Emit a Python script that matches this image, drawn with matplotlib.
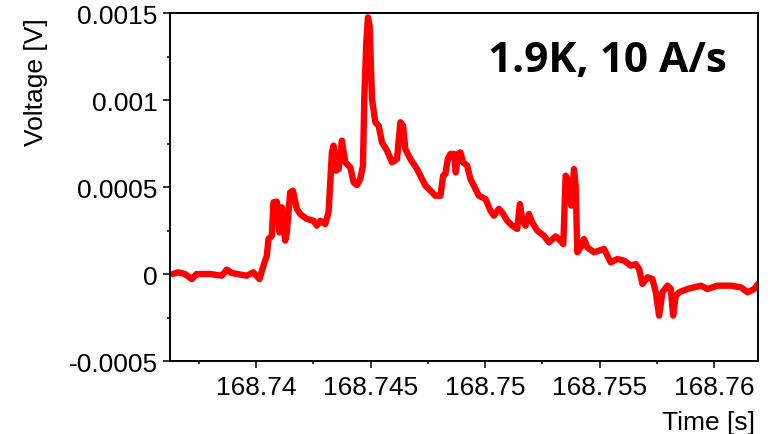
import matplotlib
matplotlib.use("Agg")
import matplotlib.pyplot as plt
from matplotlib.ticker import MultipleLocator

# quench voltage trace, 1.9 K ramp at 10 A/s
time_s = [
    168.736355, 168.736602, 168.736894, 168.737186, 168.737404, 168.737988,
    168.738498, 168.738717, 168.738936, 168.739592, 168.739883, 168.740146,
    168.740321, 168.740467, 168.740540, 168.740685, 168.740758, 168.740904,
    168.741021, 168.741123, 168.741269, 168.741342, 168.741487, 168.741604,
    168.741779, 168.741925, 168.742216, 168.742508, 168.742654, 168.742800,
    168.743018, 168.743164, 168.743310, 168.743383, 168.743485, 168.743602,
    168.743748, 168.743893, 168.744112, 168.744258, 168.744404, 168.744549,
    168.744666, 168.744724, 168.744812, 168.744885, 168.744958, 168.745060,
    168.745206, 168.745351, 168.745497, 168.745716, 168.745935, 168.746154,
    168.746299, 168.746416, 168.746518, 168.746737, 168.746883, 168.747028,
    168.747174, 168.747393, 168.747612, 168.747830, 168.748049, 168.748166,
    168.748268, 168.748370, 168.748487, 168.748632, 168.748720, 168.748822,
    168.748924, 168.749041, 168.749216, 168.749361, 168.749507, 168.749726,
    168.750018, 168.750236, 168.750382, 168.750601, 168.750747, 168.750965,
    168.751184, 168.751403, 168.751520, 168.751622, 168.751767, 168.751913,
    168.752059, 168.752278, 168.752569, 168.752788, 168.753080, 168.753226,
    168.753415, 168.753517, 168.753663, 168.753765, 168.753882, 168.753955,
    168.754028, 168.754173, 168.754319, 168.754465, 168.754757, 168.755194,
    168.755486, 168.755777, 168.756069, 168.756361, 168.756579, 168.756725,
    168.756871, 168.757090, 168.757308, 168.757454, 168.757600, 168.757746,
    168.757965, 168.758110, 168.758212, 168.758329, 168.758475, 168.758840,
    168.759423, 168.759715, 168.760152, 168.760735, 168.761173, 168.761464,
    168.761756, 168.761920,
]
voltage_v = [
    0.0, 9.6e-6, 0.0, -2.9e-5, 0.0, 0.0,
    -9.6e-6, 2.5e-5, 5.7e-6, -9.6e-6, 9.6e-6, -2.9e-5,
    4.8e-5, 1.05e-4, 2.01e-4, 2.20e-4, 4.12e-4, 4.16e-4,
    2.39e-4, 3.83e-4, 1.92e-4, 2.39e-4, 4.69e-4, 4.79e-4,
    3.74e-4, 3.45e-4, 3.16e-4, 3.06e-4, 2.78e-4, 3.06e-4,
    2.87e-4, 3.54e-4, 6.99e-4, 7.38e-4, 5.94e-4, 6.03e-4,
    7.66e-4, 6.42e-4, 6.13e-4, 5.27e-4, 5.11e-4, 5.46e-4,
    6.23e-4, 1.006e-3, 1.331e-3, 1.475e-3, 1.427e-3, 1.006e-3,
    8.72e-4, 8.52e-4, 7.57e-4, 7.09e-4, 6.42e-4, 6.61e-4,
    8.72e-4, 8.52e-4, 7.18e-4, 6.61e-4, 6.32e-4, 6.03e-4,
    5.65e-4, 5.08e-4, 4.79e-4, 4.50e-4, 4.50e-4, 5.65e-4,
    5.75e-4, 6.61e-4, 6.90e-4, 6.90e-4, 5.84e-4, 6.90e-4,
    6.99e-4, 6.42e-4, 6.23e-4, 5.46e-4, 5.08e-4, 4.50e-4,
    4.31e-4, 3.64e-4, 3.35e-4, 3.74e-4, 3.54e-4, 3.06e-4,
    2.78e-4, 2.59e-4, 4.02e-4, 3.16e-4, 2.78e-4, 3.45e-4,
    2.97e-4, 2.49e-4, 2.20e-4, 1.82e-4, 2.16e-4, 2.01e-4,
    1.72e-4, 5.65e-4, 5.36e-4, 3.93e-4, 6.03e-4, 5.08e-4,
    1.25e-4, 1.53e-4, 2.01e-4, 1.53e-4, 1.25e-4, 1.44e-4,
    6.7e-5, 8.6e-5, 7.7e-5, 4.8e-5, 5.7e-5, 2.9e-5,
    -5.7e-5, -1.9e-5, -2.9e-5, -1.05e-4, -2.39e-4, -1.05e-4,
    -6.7e-5, -8.6e-5, -2.39e-4, -1.25e-4, -1.05e-4, -8.6e-5,
    -6.7e-5, -8.6e-5, -6.7e-5, -6.7e-5, -7.7e-5, -1.05e-4,
    -8.6e-5, -5.7e-5,
]

x_ticks = [168.74, 168.745, 168.75, 168.755, 168.76]
x_labels = ["168.74", "168.745", "168.75", "168.755", "168.76"]
y_ticks = [-0.0005, 0.0, 0.0005, 0.001, 0.0015]
y_labels = ["-0.0005", "0", "0.0005", "0.001", "0.0015"]

plt.rcParams['font.family'] = ['Liberation Sans', 'DejaVu Sans']

fig = plt.figure(figsize=(7.81, 4.35), dpi=100)
ax = fig.add_axes([0.2177, 0.1678, 0.7529, 0.8])

ax.plot(time_s, voltage_v, color='#ff0000', lw=4.6,
        solid_joinstyle='round', solid_capstyle='round')

ax.set_xlim(168.73624, 168.76192)
ax.set_ylim(-0.0005, 0.0015)
ax.set_xticks(x_ticks, labels=x_labels)
ax.set_yticks(y_ticks, labels=y_labels)
ax.xaxis.set_minor_locator(MultipleLocator(0.0025))
ax.yaxis.set_minor_locator(MultipleLocator(0.00025))

ax.tick_params(which='both', direction='out', width=1.1, color='black',
               top=False, right=False)
ax.tick_params(which='major', length=5, labelsize=19, pad=4)
ax.tick_params(axis='x', which='major', pad=5)
ax.tick_params(which='minor', length=2.5)
for sp in ax.spines.values():
    sp.set_linewidth(1.4)

ax.set_ylabel('Voltage [V]', fontsize=19)
ax.yaxis.set_label_coords(-0.207, 0.805)
ax.set_xlabel('Time [s]', fontsize=19, ha='right')
ax.xaxis.set_label_coords(0.995, -0.14)

ax.text(0.947, 0.833, '1.9K, 10 A/s', transform=ax.transAxes,
        ha='right', va='baseline', fontsize=30.5, fontweight='bold',
        family='Open Sans')

fig.savefig('out.png', dpi=100)
